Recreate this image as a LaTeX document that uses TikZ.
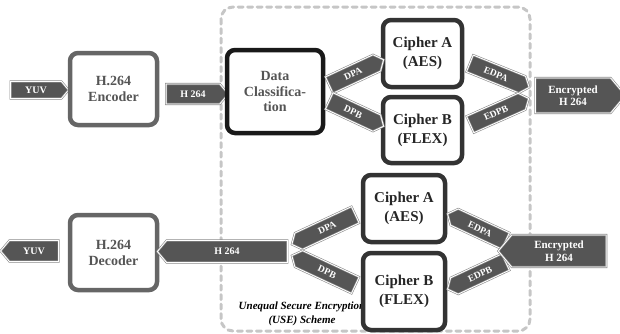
\documentclass[tikz,border=0pt]{standalone}
\usepackage{fontspec}
\setmainfont{Liberation Serif}
\usetikzlibrary{shapes.symbols}

\definecolor{tagfill}{HTML}{555555}
\definecolor{tagline}{HTML}{8A8A8A}
\definecolor{boxgray}{HTML}{666666}
\definecolor{boxdark}{HTML}{333333}
\definecolor{useline}{HTML}{C6C6C6}

\begin{document}
\begin{tikzpicture}[x=1pt, y=-1pt,
		blk/.style={draw=boxgray, line width=4.5pt, rounded corners=8pt, fill=white, align=center, text=tagfill, inner sep=0pt, font=\fontsize{14}{16}\selectfont\bfseries},
		cbox/.style={blk, draw=boxdark, text=black!85, font=\fontsize{15}{19}\selectfont\bfseries},
		tag/.style={signal, signal pointer angle=100, fill=tagfill, draw=tagline, double=white, double distance=0.9pt, line width=0.6pt, text=white, inner sep=1pt, minimum height=18pt, font=\fontsize{9.5}{10}\selectfont\bfseries}
	]
	\useasboundingbox (0,0) rectangle (620,333);
	
	% USE scheme frame
	\draw[useline, line width=3pt, dash pattern=on 5pt off 4.5pt, line cap=round, rounded corners=12pt] (221,7) rectangle (530,331);
	\node[align=center, font=\fontsize{11}{14}\selectfont\bfseries\itshape] (usetxt) at (302,314) {Unequal Secure Encryption\\(USE) Scheme};
	
	% Encoder side
	\node[tag, signal to=east, minimum width=58pt, minimum height=17pt, font=\fontsize{10}{11}\selectfont\bfseries] (yuvin) at (36,90) {YUV};
	\node[blk, minimum width=87pt, minimum height=72pt] (enc) at (113.5,89) {H.264\\Encoder};
	\node[tag, signal to=east, minimum width=62pt, minimum height=20pt, font=\fontsize{10}{11}\selectfont\bfseries] (h264a) at (193,94) {H 264};
	\node[blk, draw=black!90, minimum width=96pt, minimum height=83pt, font=\fontsize{14}{15.5}\selectfont\bfseries] (dc) at (275,91.5) {Data\\Classifica-\\tion};
	\node[cbox, minimum width=79pt, minimum height=67pt] (ca1) at (422.5,53.5) {Cipher A\\(AES)};
	\node[cbox, minimum width=79pt, minimum height=66pt] (cb1) at (422.5,130) {Cipher B\\(FLEX)};
	
	\node[tag, signal to=east, rotate=25, minimum width=60pt] (dpa1) at (353,74) {DPA};
	\node[tag, signal to=east, rotate=-25, minimum width=60pt] (dpb1) at (353,112) {DPB};
	\node[tag, signal to=east, rotate=-22, minimum width=64pt] (edpa1) at (496,74) {EDPA};
	\node[tag, signal to=east, rotate=24, minimum width=64pt] (edpb1) at (496,113) {EDPB};
	\node[tag, signal to=east, align=center, minimum width=90pt, minimum height=35pt, font=\fontsize{11}{12.5}\selectfont\bfseries] (encr1) at (573,95.5) {Encrypted\\H 264};
	
	% Decoder side
	\node[tag, signal to=west, minimum width=58pt, minimum height=21pt, font=\fontsize{10}{11}\selectfont\bfseries] (yuvout) at (34,251) {YUV};
	\node[blk, minimum width=87pt, minimum height=75pt] (dec) at (113.5,252.5) {H.264\\Decoder};
	\node[tag, signal to=west, minimum width=130pt, minimum height=22pt, font=\fontsize{10}{11}\selectfont\bfseries] (h264b) at (227,251.5) {H 264};
	\node[cbox, minimum width=82pt, minimum height=67pt] (ca2) at (404,208.5) {Cipher A\\(AES)};
	\node[cbox, minimum width=82pt, minimum height=77pt] (cb2) at (404,291.5) {Cipher B\\(FLEX)};
	
	\node[tag, signal to=west, rotate=25, minimum width=70pt] (dpa2) at (327,228) {DPA};
	\node[tag, signal to=west, rotate=-25, minimum width=70pt] (dpb2) at (327,272) {DPB};
	\node[tag, signal to=west, rotate=-25, minimum width=64pt] (edpa2) at (480,229) {EDPA};
	\node[tag, signal to=west, rotate=25, minimum width=64pt] (edpb2) at (480,274) {EDPB};
	\node[tag, signal to=west, align=center, minimum width=108pt, minimum height=32pt, font=\fontsize{11}{12.5}\selectfont\bfseries] (encr2) at (559,251) {Encrypted\\H 264};
\end{tikzpicture}
\end{document}
